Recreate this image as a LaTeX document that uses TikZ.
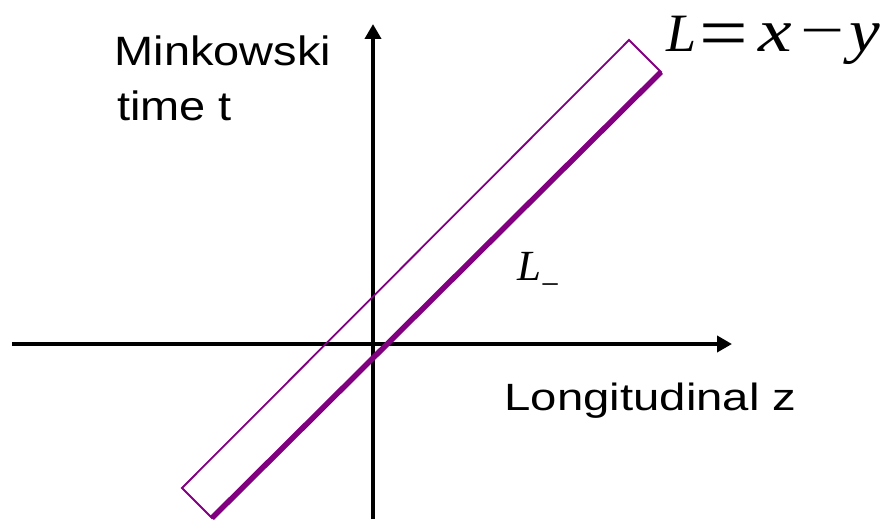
\documentclass[tikz,border=0pt]{standalone}
\usepackage{fontspec}
\setmainfont{Liberation Serif}
\newfontfamily\arialfont{Liberation Sans}
\usetikzlibrary{arrows.meta}
\definecolor{lpurple}{HTML}{800080}
\begin{document}
\begin{tikzpicture}[x=1pt,y=-1pt,
  axis/.style={line width=4pt,-{Triangle[length=15pt,width=16pt]}},
  thinedge/.style={draw=lpurple,line width=1.8pt,line join=miter},
  thickedge/.style={draw=lpurple,line width=5.5pt},
  lbl/.style={anchor=base west,inner sep=0pt,outer sep=0pt}]
\useasboundingbox (0,0) rectangle (885,519);
% axes
\coordinate (tbot) at (373,519);
\coordinate (ttop) at (373,24);
\coordinate (zleft) at (12,344);
\coordinate (zright) at (732,344);
\draw[axis] (zleft) -- (zright);
\draw[axis] (tbot) -- (ttop);
% band
\coordinate (A) at (629,40);
\coordinate (B) at (661,72);
\coordinate (C) at (212,518);
\coordinate (D) at (182,488);
\draw[thinedge] (A) -- (B) -- (C) -- (D) -- cycle;
\draw[thickedge] (B) -- (C);
% labels
\node[lbl] (mink) at (114.5,66) {\arialfont\fontsize{41}{41}\selectfont\scalebox{1.145}[1]{Minkowski}};
\node[lbl] (time) at (117,120) {\arialfont\fontsize{41}{41}\selectfont\scalebox{1.145}[1]{time t}};
\node[lbl] (long) at (504.6,410) {\arialfont\fontsize{38}{38}\selectfont\scalebox{1.245}[1]{Longitudinal z}};
\node[lbl] (eq) at (666,52) {\fontsize{54}{54}\selectfont
  \makebox[33pt][l]{\itshape L}%
  \makebox[59pt][l]{\raisebox{-6pt}{\scalebox{1.6}[1.4]{=}}}%
  \makebox[42pt][l]{\scalebox{1.4}[1.12]{\itshape x}}%
  \makebox[49.5pt][l]{\raisebox{3pt}{\scalebox{1.45}[1]{−}}}%
  \scalebox{1.28}[1.12]{\itshape y}};
\node[lbl] (Lm) at (517,280) {\fontsize{43}{43}\selectfont\itshape L\upshape\raisebox{-15pt}{\fontsize{33}{33}\selectfont −}};
\end{tikzpicture}
\end{document}
